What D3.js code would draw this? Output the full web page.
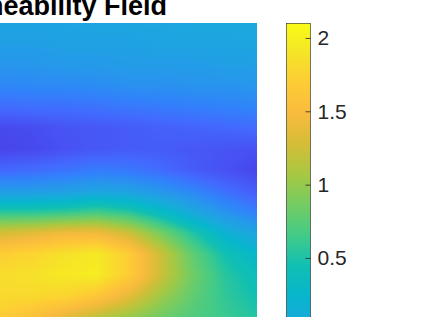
<!DOCTYPE html>
<html>
<head>
<meta charset="utf-8">
<script src="https://cdn.jsdelivr.net/npm/d3@7"></script>
<style>
  html, body { margin: 0; padding: 0; background: #fff; }
  svg { display: block; font-family: "Liberation Sans", Arial, sans-serif; }
</style>
</head>
<body>
<div id="chart"></div>
<script>
// field sampled on a regular grid (rows top -> bottom, cols left -> right)
const colIdx = [0, 1, 2, 3, 4, 5, 6, 7, 8];
const rowIdx = [0, 1, 2, 3, 4, 5, 6, 7, 8, 9, 10, 11, 12, 13, 14];
const field = [
  [-0.01, -0.01, -0.01, 0.02, 0.02, 0.02, 0.05, 0.05, 0.05],
  [-0.08, -0.08, -0.05, -0.05, -0.05, -0.01, -0.01, -0.01, 0.02],
  [-0.18, -0.18, -0.14, -0.14, -0.11, -0.11, -0.11, -0.08, -0.08],
  [-0.34, -0.31, -0.31, -0.28, -0.24, -0.24, -0.21, -0.21, -0.18],
  [-0.57, -0.54, -0.54, -0.51, -0.47, -0.44, -0.41, -0.38, -0.34],
  [-0.87, -0.84, -0.77, -0.74, -0.71, -0.67, -0.64, -0.61, -0.57],
  [-0.90, -0.87, -0.80, -0.74, -0.71, -0.71, -0.74, -0.77, -0.80],
  [-0.61, -0.57, -0.51, -0.44, -0.47, -0.57, -0.71, -0.80, -0.90],
  [-0.11, -0.11, -0.08, -0.01, -0.05, -0.18, -0.34, -0.54, -0.71],
  [0.55, 0.55, 0.58, 0.65, 0.55, 0.32, 0.05, -0.21, -0.41],
  [1.28, 1.34, 1.44, 1.44, 1.24, 0.88, 0.52, 0.19, -0.01],
  [1.70, 1.77, 1.87, 1.94, 1.70, 1.24, 0.78, 0.45, 0.25],
  [1.84, 1.87, 1.94, 1.97, 1.70, 1.24, 0.85, 0.55, 0.38],
  [1.80, 1.80, 1.77, 1.64, 1.37, 1.04, 0.78, 0.58, 0.45],
  [1.70, 1.57, 1.37, 1.18, 1.01, 0.85, 0.71, 0.62, 0.52]
];
const colorLimits = [-1.2, 2.1];
const cbTicks = [0.5, 1, 1.5, 2];
const titleText = "Permeability Field";

// parula colormap anchor colours
const parula = [
  [0.2422, 0.1504, 0.6603], [0.2750, 0.2331, 0.8896], [0.2810, 0.3228, 0.9579],
  [0.2586, 0.4168, 0.9956], [0.1905, 0.5130, 0.9810], [0.1493, 0.5938, 0.9213],
  [0.1078, 0.6569, 0.8716], [0.0282, 0.7149, 0.8004], [0.0660, 0.7500, 0.7000],
  [0.2634, 0.7953, 0.5277], [0.4530, 0.8010, 0.3880], [0.6535, 0.7840, 0.2599],
  [0.8350, 0.7425, 0.2150], [0.9735, 0.7314, 0.2392], [0.9943, 0.7975, 0.2074],
  [0.9627, 0.8925, 0.1556], [0.9769, 0.9839, 0.0805]
];

const W = 423, H = 317;
const plot = { left: 0, right: 257, top: 23, bottom: 317 };
const cb = { left: 286, right: 310 };

const svg = d3.select("#chart").append("svg")
  .attr("width", W).attr("height", H);
svg.append("rect").attr("width", W).attr("height", H).attr("fill", "#fff");

const parulaScale = d3.scaleLinear()
  .domain(parula.map((d, i) => i / (parula.length - 1)))
  .range(parula.map(c => d3.rgb(c[0] * 255, c[1] * 255, c[2] * 255)))
  .interpolate(d3.interpolateRgb)
  .clamp(true);
const norm = d3.scaleLinear().domain(colorLimits).range([0, 1]).clamp(true);
const color = v => parulaScale(norm(v));

const x = d3.scaleLinear().domain([colIdx[0], colIdx[colIdx.length - 1]]).range([plot.left, plot.right]);
const y = d3.scaleLinear().domain([rowIdx[0], rowIdx[rowIdx.length - 1]]).range([plot.top, plot.bottom]);

// interpolated shading of the grid (like shading interp)
const pw = plot.right - plot.left, ph = plot.bottom - plot.top;
const canvas = document.createElement("canvas");
canvas.width = pw; canvas.height = ph;
const ctx = canvas.getContext("2d");
const img = ctx.createImageData(pw, ph);
const nC = colIdx.length, nR = rowIdx.length;
for (let py = 0; py < ph; py++) {
  const fy = Math.min(Math.max(y.invert(plot.top + py + 0.5), 0), nR - 1);
  const r0 = Math.min(Math.floor(fy), nR - 2), ty = fy - r0;
  for (let px = 0; px < pw; px++) {
    const fx = Math.min(Math.max(x.invert(plot.left + px + 0.5), 0), nC - 1);
    const c0 = Math.min(Math.floor(fx), nC - 2), tx = fx - c0;
    const v = (1 - ty) * ((1 - tx) * field[r0][c0] + tx * field[r0][c0 + 1]) +
              ty * ((1 - tx) * field[r0 + 1][c0] + tx * field[r0 + 1][c0 + 1]);
    const c = d3.rgb(color(v));
    const k = (py * pw + px) * 4;
    img.data[k] = c.r; img.data[k + 1] = c.g; img.data[k + 2] = c.b; img.data[k + 3] = 255;
  }
}
ctx.putImageData(img, 0, 0);
svg.append("image")
  .attr("x", plot.left).attr("y", plot.top)
  .attr("width", pw).attr("height", ph)
  .attr("preserveAspectRatio", "none")
  .attr("href", canvas.toDataURL());

// title (partly outside the frame, as in the original crop)
svg.append("text")
  .attr("x", 167).attr("y", 15)
  .attr("text-anchor", "end")
  .style("font-size", "27px")
  .style("font-weight", 700)
  .style("fill", "#000")
  .text(titleText);

// colorbar
const cbY = d3.scaleLinear().domain(colorLimits).range([507.3, 23.3]);
const defs = svg.append("defs");
const grad = defs.append("linearGradient").attr("id", "cbgrad")
  .attr("x1", 0).attr("y1", 1).attr("x2", 0).attr("y2", 0);
grad.selectAll("stop").data(parula).enter().append("stop")
  .attr("offset", (d, i) => i / (parula.length - 1))
  .attr("stop-color", d => d3.rgb(d[0] * 255, d[1] * 255, d[2] * 255));

svg.append("rect")
  .attr("x", cb.left + 0.5).attr("y", cbY(colorLimits[1]))
  .attr("width", cb.right - cb.left)
  .attr("height", cbY(colorLimits[0]) - cbY(colorLimits[1]))
  .attr("fill", "url(#cbgrad)")
  .attr("stroke", "#262626").attr("stroke-width", 0.6);

const axis = svg.append("g")
  .attr("transform", `translate(${cb.right + 0.5},0)`)
  .call(d3.axisRight(cbY).tickValues(cbTicks).tickSize(-5).tickPadding(7).tickFormat(d3.format("")));
axis.select(".domain").remove();
axis.selectAll("line").attr("stroke", "#262626").attr("stroke-width", 0.8);
axis.selectAll("text")
  .style("font-size", "21px")
  .style("fill", "#262626")
  .attr("font-family", "Liberation Sans, Arial, sans-serif");
</script>
</body>
</html>
